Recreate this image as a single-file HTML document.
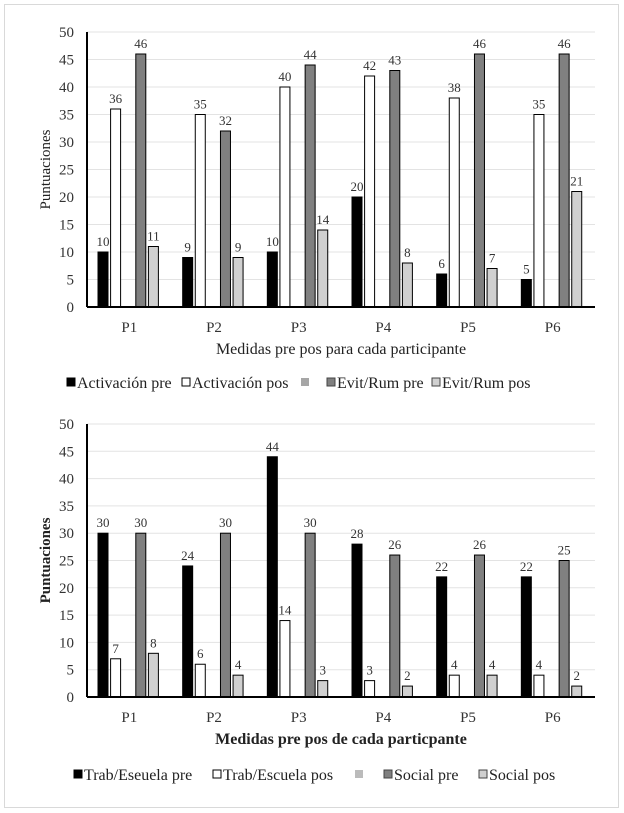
<!DOCTYPE html>
<html><head><meta charset="utf-8"><style>
html,body{margin:0;padding:0;background:#fff;}
svg{display:block;font-family:"Liberation Serif",serif;}
</style></head><body>
<svg id="root" width="624" height="813" viewBox="0 0 624 813">
<rect x="4.5" y="4.5" width="614" height="803" fill="#fff" stroke="#d9d9d9"/>
</svg>
<script>
const categories = ["P1","P2","P3","P4","P5","P6"];
const actPre = [10,9,10,20,6,5];
const actPos = [36,35,40,42,38,35];
const evitPre = [46,32,44,43,46,46];
const evitPos = [11,9,14,8,7,21];
const trabPre = [30,24,44,28,22,22];
const trabPos = [7,6,14,3,4,4];
const socPre = [30,30,30,26,26,25];
const socPos = [8,4,3,2,4,2];
const yTicks = [0,5,10,15,20,25,30,35,40,45,50];

const NS = "http://www.w3.org/2000/svg";
const root = document.getElementById("root");
function mk(tag, attrs, parent, text){
  const e = document.createElementNS(NS, tag);
  for (const k in attrs) e.setAttribute(k, attrs[k]);
  if (text !== undefined) e.textContent = text;
  (parent||root).appendChild(e);
  return e;
}
const fills = ["#000","#fff",null,"#808080","#d0d0d0"];

function chart(cfg){
  const g = mk("g", {});
  
  
  const x0 = 87, x1 = 595, yTop = cfg.yTop, yBot = cfg.yBot;
  const ys = v => yBot - (v/50)*(yBot-yTop);
  const cw = (x1-x0)/categories.length;
  yTicks.forEach(t => {
    if (t>0) {
      const l = mk("line", {x1:x0, x2:x1, y1:ys(t), y2:ys(t), stroke:"#e3e3e3", "stroke-width":1}, g);
      
      
    }
    const tx = mk("text", {x:74, y:ys(t)+5, "text-anchor":"end", "font-size":"15", fill:"#333"}, g, String(t));
    
    
  });
  const series = cfg.series;
  categories.forEach((c, i) => {
    const gx = x0 + cw*i + 11;
    series.forEach((arr, s) => {
      if (!arr) return;
      const bx = gx + s*12.6;
      const y = ys(arr[i]);
      const r = mk("rect", {x:bx, y:y, width:10, height:yBot-y, fill:fills[s], stroke:"#000", "stroke-width":1}, g);
      
      
      const lb = mk("text", {x:bx+5, y:y-6, "text-anchor":"middle", "font-size":"13", fill:"#333"}, g, String(arr[i]));
      
      
    });
    const cl = mk("text", {x:x0+cw*(i+0.5), y:yBot+25, "text-anchor":"middle", "font-size":"15", fill:"#333"}, g, c);
    
    
  });
  const ax = mk("line", {x1:x0, x2:x0, y1:yTop, y2:yBot, stroke:"#000", "stroke-width":2}, g);
  
  
  const bx = mk("line", {x1:x0, x2:x1, y1:yBot, y2:yBot, stroke:"#000", "stroke-width":2}, g);
  
  
  const yt = mk("text", {transform:"translate(50,"+((yTop+yBot)/2)+") rotate(-90)", "text-anchor":"middle", "font-size":"15", "font-weight":cfg.bold?"bold":"normal", fill:"#222"}, g, "Puntuaciones");
  
  
  const xt = mk("text", {x:(x0+x1)/2, y:yBot+47, "text-anchor":"middle", "font-size":"16", "font-weight":cfg.bold?"bold":"normal", fill:"#222"}, g, cfg.xTitle);
  
  
  cfg.legend.forEach(le => {
    const sq = mk("rect", {x:le.x, y:cfg.legY-10, width:8, height:8, fill:le.fill, stroke:le.stroke}, g);
    
    
    if (le.t) {
      const lt = mk("text", {x:le.x+10, y:cfg.legY, "font-size":"16", fill:"#222"}, g, le.t);
      
      
    }
  });
}
chart({name:"chart-activacion", yTop:32, yBot:307, series:[actPre,actPos,null,evitPre,evitPos],
  xTitle:"Medidas pre pos para cada participante", bold:false, legY:388,
  legend:[{x:67,fill:"#000",stroke:"#000",t:"Activación pre"},{x:182,fill:"#fff",stroke:"#000",t:"Activación pos"},
          {x:301,fill:"#a6a6a6",stroke:"none"},{x:327,fill:"#808080",stroke:"#444",t:"Evit/Rum pre"},{x:432,fill:"#d0d0d0",stroke:"#444",t:"Evit/Rum pos"}]});
chart({name:"chart-trabajo-social", yTop:424, yBot:697, series:[trabPre,trabPos,null,socPre,socPos],
  xTitle:"Medidas pre pos de cada particpante", bold:true, legY:780,
  legend:[{x:74,fill:"#000",stroke:"#000",t:"Trab/Eseuela pre"},{x:213,fill:"#fff",stroke:"#000",t:"Trab/Escuela pos"},
          {x:355,fill:"#bbb",stroke:"none"},{x:384,fill:"#808080",stroke:"#444",t:"Social pre"},{x:479,fill:"#d0d0d0",stroke:"#444",t:"Social pos"}]});
</script>
</body></html>
